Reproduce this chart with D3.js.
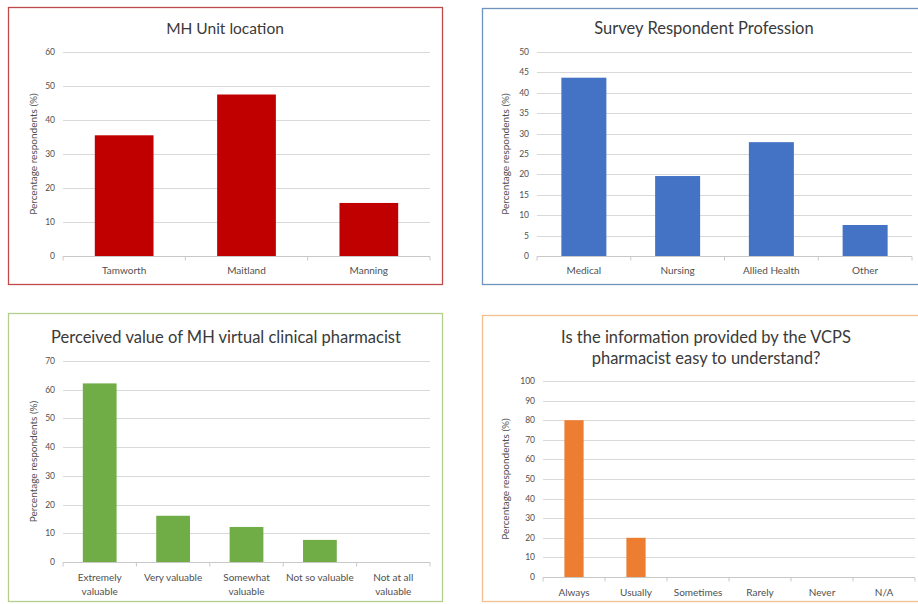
<!DOCTYPE html>
<html>
<head>
<meta charset="utf-8">
<script src="https://cdn.jsdelivr.net/npm/d3@7"></script>
<style>
  body { margin: 0; background: #fff; }
  svg { display: block; font-family: Lato, "Open Sans", sans-serif; }
  .grid line { stroke: #d9d9d9; stroke-width: 1; }
  .tick-lbl { fill: #505050; font-size: 8.5px; }
  .cat-lbl { fill: #505050; font-size: 10px; }
  .ytitle { fill: #505050; font-size: 10px; }
  .title { fill: #3a3a3a; font-size: 15.5px; }
</style>
</head>
<body>
<div id="chart"></div>
<script>
// data
const unitCategories = ["Tamworth", "Maitland", "Manning"];
const unitValues = [35.5, 47.5, 15.6];

const professionCategories = ["Medical", "Nursing", "Allied Health", "Other"];
const professionValues = [43.7, 19.6, 27.9, 7.6];

const valueCategories = ["Extremely valuable", "Very valuable", "Somewhat valuable", "Not so valuable", "Not at all valuable"];
const valueValues = [62.2, 16.1, 12.2, 7.7, 0];

const understandCategories = ["Always", "Usually", "Sometimes", "Rarely", "Never", "N/A"];
const understandValues = [80, 20, 0, 0, 0, 0];

const yTitle = "Percentage respondents (%)";

const svg = d3.select("#chart").append("svg")
  .attr("width", 918)
  .attr("height", 604);

// panel layout (pixels)
const panels = [
  {
    title: ["MH Unit location"], titleX: 225, titleY: 29, titleSize: 15.5,
    cats: unitCategories, vals: unitValues, yMax: 60, yStep: 10,
    border: {x: 8.5, y: 7.5, w: 434, h: 277}, borderColor: "#bf4a4a",
    x0: 63, x1: 430, yTop: 52, yBot: 256, pad: 0.52,
    color: "#c00000", ytx: 33, catY: 270, catWrap: false
  },
  {
    title: ["Survey Respondent Profession"], titleX: 704, titleY: 28, titleSize: 16.5,
    cats: professionCategories, vals: professionValues, yMax: 50, yStep: 5,
    border: {x: 482.5, y: 8.5, w: 460, h: 276}, borderColor: "#6f93bd",
    x0: 537, x1: 912, yTop: 52, yBot: 256, pad: 0.52,
    color: "#4472c4", ytx: 505, catY: 270, catWrap: false
  },
  {
    title: ["Perceived value of MH virtual clinical pharmacist"], titleX: 226, titleY: 337, titleSize: 16.5,
    cats: valueCategories, vals: valueValues, yMax: 70, yStep: 10,
    border: {x: 8.5, y: 313.5, w: 434, h: 288}, borderColor: "#b4cf8c",
    x0: 63, x1: 430, yTop: 361, yBot: 562, pad: 0.54,
    color: "#70ad47", ytx: 33, catY: 577, catWrap: true
  },
  {
    title: ["Is the information provided by the VCPS", "pharmacist easy to understand?"], titleX: 706, titleY: 337, titleSize: 16.5,
    cats: understandCategories, vals: understandValues, yMax: 100, yStep: 10,
    border: {x: 482.5, y: 315.5, w: 460, h: 286}, borderColor: "#f2c08f",
    x0: 543, x1: 915, yTop: 381, yBot: 577, pad: 0.69,
    color: "#ed7d31", ytx: 505, catY: 592, catWrap: false
  }
];

// wrap labels like Excel does for the narrow bands
const wrapMap = {
  "Extremely valuable": ["Extremely", "valuable"],
  "Very valuable": ["Very valuable"],
  "Somewhat valuable": ["Somewhat", "valuable"],
  "Not so valuable": ["Not so valuable"],
  "Not at all valuable": ["Not at all", "valuable"]
};

panels.forEach(p => {
  const g = svg.append("g");

  g.append("rect")
    .attr("x", p.border.x).attr("y", p.border.y)
    .attr("width", p.border.w).attr("height", p.border.h)
    .attr("fill", "none")
    .attr("stroke", p.borderColor)
    .attr("stroke-width", 1.3);

  const x = d3.scaleBand()
    .domain(p.cats)
    .range([p.x0, p.x1])
    .paddingInner(p.pad)
    .paddingOuter(p.pad / 2);

  const y = d3.scaleLinear()
    .domain([0, p.yMax])
    .range([p.yBot, p.yTop]);

  const ticks = d3.range(0, p.yMax + p.yStep / 2, p.yStep);

  // gridlines
  g.append("g").attr("class", "grid")
    .selectAll("line")
    .data(ticks.filter(t => t > 0))
    .join("line")
    .attr("x1", p.x0).attr("x2", p.x1)
    .attr("y1", d => Math.round(y(d)) + 0.5)
    .attr("y2", d => Math.round(y(d)) + 0.5);

  // y tick labels
  g.selectAll(".tick-lbl")
    .data(ticks)
    .join("text")
    .attr("class", "tick-lbl")
    .attr("x", p.x0 - 8)
    .attr("y", d => y(d))
    .attr("dy", "0.35em")
    .attr("text-anchor", "end")
    .text(d => d);

  // bars
  g.selectAll(".bar")
    .data(p.cats.map((c, i) => ({c, v: p.vals[i]})))
    .join("rect")
    .attr("class", "bar")
    .attr("x", d => x(d.c))
    .attr("y", d => y(d.v))
    .attr("width", x.bandwidth())
    .attr("height", d => y(0) - y(d.v))
    .attr("fill", p.color);

  // x axis baseline with ticks between categories
  const bandEdges = d3.range(p.cats.length + 1).map(i => p.x0 + i * (p.x1 - p.x0) / p.cats.length);
  g.append("line")
    .attr("x1", p.x0).attr("x2", p.x1)
    .attr("y1", Math.round(y(0)) + 0.5).attr("y2", Math.round(y(0)) + 0.5)
    .attr("stroke", "#c8c8c8");
  g.selectAll(".xtick")
    .data(bandEdges)
    .join("line")
    .attr("class", "xtick")
    .attr("x1", d => d).attr("x2", d => d)
    .attr("y1", Math.round(y(0)) + 0.5).attr("y2", Math.round(y(0)) + 4.5)
    .attr("stroke", "#c8c8c8");

  // category labels
  const cat = g.selectAll(".cat-lbl")
    .data(p.cats)
    .join("text")
    .attr("class", "cat-lbl")
    .attr("text-anchor", "middle")
    .attr("x", d => x(d) + x.bandwidth() / 2)
    .attr("y", p.catY);
  cat.each(function(d) {
    const lines = p.catWrap ? wrapMap[d] : [d];
    d3.select(this).selectAll("tspan")
      .data(lines)
      .join("tspan")
      .attr("x", x(d) + x.bandwidth() / 2)
      .attr("dy", (l, i) => i === 0 ? "0.35em" : "1.45em")
      .text(l => l);
  });

  // y axis title
  g.append("text")
    .attr("class", "ytitle")
    .attr("transform", `translate(${p.ytx},${(p.yTop + p.yBot) / 2}) rotate(-90)`)
    .attr("text-anchor", "middle")
    .attr("dy", "0.35em")
    .text(yTitle);

  // chart title
  g.append("text")
    .attr("class", "title")
    .style("font-size", p.titleSize + "px")
    .attr("text-anchor", "middle")
    .attr("x", p.titleX)
    .attr("y", p.titleY)
    .selectAll("tspan")
    .data(p.title)
    .join("tspan")
    .attr("x", p.titleX)
    .attr("dy", (l, i) => i === 0 ? "0.35em" : "1.3em")
    .text(l => l);
});
</script>
</body>
</html>
